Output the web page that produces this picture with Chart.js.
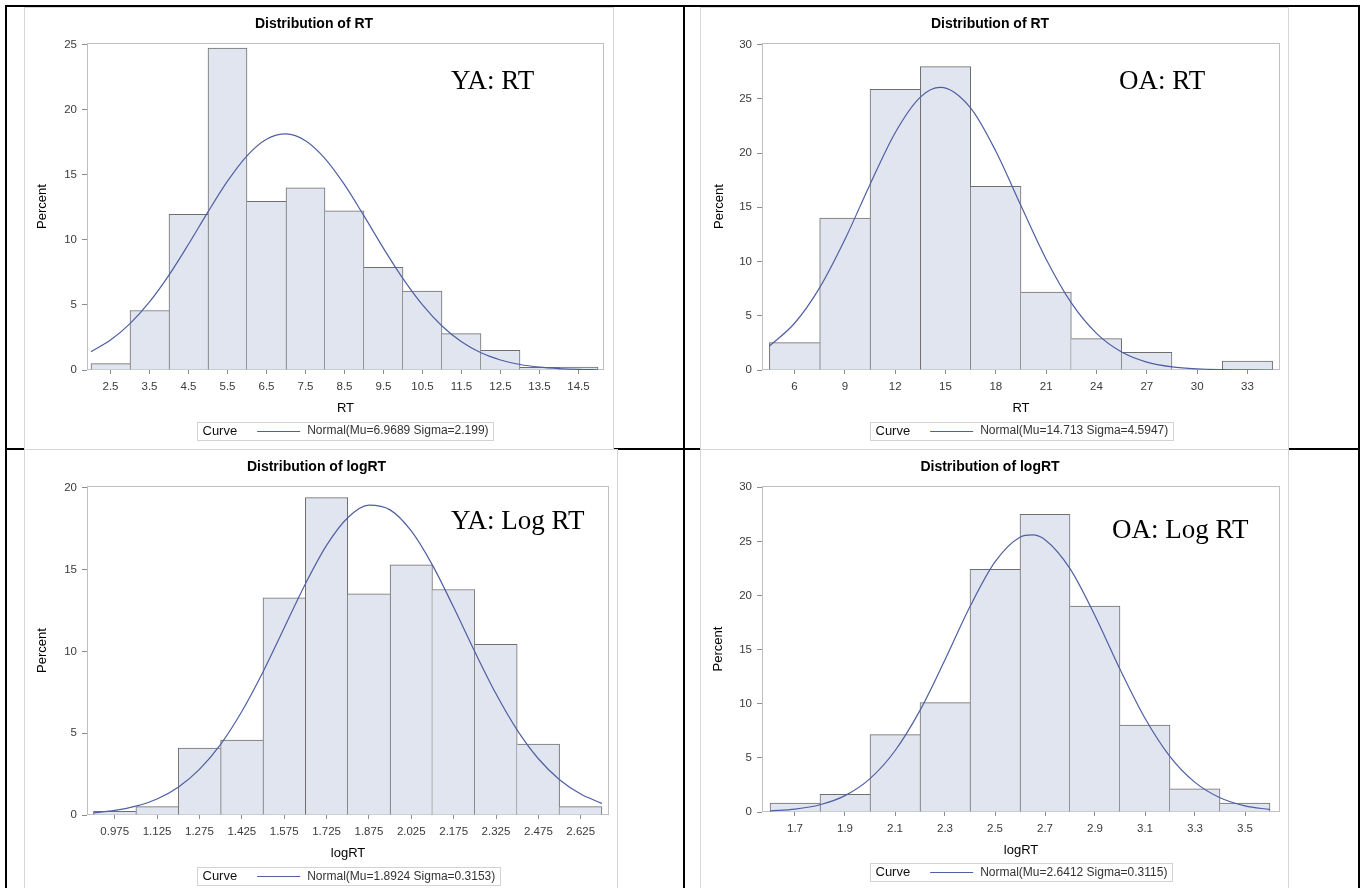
<!DOCTYPE html>
<html>
<head>
<meta charset="utf-8">
<script src="https://cdn.jsdelivr.net/npm/chart.js@4.4.1/dist/chart.umd.min.js"></script>
<style>
html,body{margin:0;padding:0;background:#fff;}
body{width:1360px;height:888px;position:relative;overflow:hidden;}
.bl{position:absolute;background:#000;}
.panel{position:absolute;box-sizing:border-box;border:1px solid #d6d6d6;background:#fff;}
canvas{position:absolute;}
.note{position:absolute;font-family:"Liberation Serif","Times New Roman",serif;font-size:27px;line-height:27px;color:#000;white-space:nowrap;z-index:5;}
</style>
</head>
<body>
<div class="bl" style="left:5px;top:5px;width:1355px;height:2px;"></div>
<div class="bl" style="left:5px;top:5px;width:2px;height:883px;"></div>
<div class="bl" style="left:683px;top:5px;width:2px;height:883px;"></div>
<div class="bl" style="left:1358px;top:5px;width:2px;height:883px;"></div>
<div class="bl" style="left:5px;top:448px;width:1355px;height:2px;"></div>

<div class="panel" style="left:24px;top:7px;width:590px;height:443px;"></div>
<div class="panel" style="left:700px;top:7px;width:589px;height:443px;"></div>
<div class="panel" style="left:24px;top:449px;width:594px;height:445px;"></div>
<div class="panel" style="left:700px;top:449px;width:589px;height:445px;"></div>

<canvas id="cTL" width="590" height="443" style="left:24px;top:7px;"></canvas>
<canvas id="cTR" width="589" height="443" style="left:700px;top:7px;"></canvas>
<canvas id="cBL" width="594" height="445" style="left:24px;top:449px;"></canvas>
<canvas id="cBR" width="589" height="445" style="left:700px;top:449px;"></canvas>

<div class="note" style="left:451px;top:67px;">YA: RT</div>
<div class="note" style="left:1119px;top:67px;">OA: RT</div>
<div class="note" style="left:451px;top:507px;">YA: Log RT</div>
<div class="note" style="left:1112px;top:516px;">OA: Log RT</div>

<script>
// ---------- DATA ----------
// Young adults, RT
const yaRtBinCenters = [2.5,3.5,4.5,5.5,6.5,7.5,8.5,9.5,10.5,11.5,12.5,13.5,14.5];
const yaRtPercent    = [0.49,4.57,11.97,24.74,12.97,14.0,12.23,7.89,6.06,2.8,1.52,0.2,0.23];
const yaRtCurveX     = [2,2.5,3,3.5,4,4.5,5,5.5,6,6.5,7,7.5,8,8.5,9,9.5,10,10.5,11,11.5,12,12.5,13,13.5,14,14.5,15];
const yaRtCurveY     = [1.41,2.30,3.56,5.23,7.29,9.66,12.15,14.51,16.46,17.73,18.14,17.62,16.25,14.24,11.84,9.35,7.02,5.00,3.38,2.17,1.32,0.77,0.42,0.22,0.11,0.05,0.02];
const yaRtXTicks     = ['2.5','3.5','4.5','5.5','6.5','7.5','8.5','9.5','10.5','11.5','12.5','13.5','14.5'];
const yaRtYTicks     = ['0','5','10','15','20','25'];

// Older adults, RT
const oaRtBinCenters = [6,9,12,15,18,21,24,27,30,33];
const oaRtPercent    = [2.53,14.0,25.87,27.97,16.93,7.18,2.9,1.63,0,0.83];
const oaRtCurveX     = [4.5,6,7.5,9,10.5,12,13.5,14.7,16.5,18,19.5,21,22.5,24,25.5,27,28.5,30,31.5,33,34.5];
const oaRtCurveY     = [2.20,4.31,7.60,12.03,17.11,21.88,25.16,26.05,24.15,20.17,15.14,10.22,6.19,3.38,1.66,0.73,0.29,0.10,0.03,0.01,0.00];
const oaRtXTicks     = ['6','9','12','15','18','21','24','27','30','33'];
const oaRtYTicks     = ['0','5','10','15','20','25','30'];

// Young adults, logRT
const yaLogBinCenters = [0.975,1.125,1.275,1.425,1.575,1.725,1.875,2.025,2.175,2.325,2.475,2.625];
const yaLogPercent    = [0.22,0.51,4.09,4.58,13.28,19.41,13.52,15.3,13.79,10.44,4.33,0.51];
const yaLogCurveX     = [0.9,0.975,1.05,1.125,1.2,1.275,1.35,1.425,1.5,1.575,1.65,1.725,1.8,1.875,1.95,2.025,2.1,2.175,2.25,2.325,2.4,2.475,2.55,2.625,2.7];
const yaLogCurveY     = [0.13,0.28,0.54,0.98,1.70,2.79,4.32,6.33,8.75,11.44,14.13,16.49,18.18,18.95,18.66,17.37,15.28,12.70,9.98,7.41,5.19,3.44,2.16,1.28,0.71];
const yaLogXTicks     = ['0.975','1.125','1.275','1.425','1.575','1.725','1.875','2.025','2.175','2.325','2.475','2.625'];
const yaLogYTicks     = ['0','5','10','15','20'];

// Older adults, logRT
const oaLogBinCenters = [1.7,1.9,2.1,2.3,2.5,2.7,2.9,3.1,3.3,3.5];
const oaLogPercent    = [0.83,1.63,7.15,10.11,22.42,27.5,19.02,8.02,2.13,0.83];
const oaLogCurveX     = [1.6,1.7,1.8,1.9,2.0,2.1,2.2,2.3,2.4,2.5,2.6,2.65,2.7,2.8,2.9,3.0,3.1,3.2,3.3,3.4,3.5,3.6];
const oaLogCurveY     = [0.10,0.27,0.67,1.51,3.08,5.66,9.39,14.06,18.98,23.11,25.39,25.60,25.16,22.49,18.14,13.19,8.66,5.12,2.74,1.32,0.57,0.22];
const oaLogXTicks     = ['1.7','1.9','2.1','2.3','2.5','2.7','2.9','3.1','3.3','3.5'];
const oaLogYTicks     = ['0','5','10','15','20','25','30'];

// ---------- STYLE ----------
const FONT = '"Liberation Sans", Arial, sans-serif';
const FILL = '#e1e5ef';
const EDGE = '#6e6e6e';
const CURVE = '#4f5fa3';
const FRAME = '#bcc0c2';
const TICKMARK = '#8c8c8c';
const TICKTXT = '#3a3a3a';

const decor = {
  id: 'sasDecor',
  beforeDatasetsDraw(chart) {
    const {ctx, chartArea: a} = chart;
    ctx.save();
    ctx.strokeStyle = FRAME;
    ctx.lineWidth = 1;
    const l = Math.round(a.left), t = Math.round(a.top), r = Math.round(a.right), b = Math.round(a.bottom);
    ctx.strokeRect(l + 0.5, t + 0.5, r - l - 1, b - t - 1);
    ctx.restore();
  },
  afterDraw(chart, args, opts) {
    const {ctx, chartArea: a} = chart;
    const ds = chart.data.datasets[0];
    ctx.save();
    ctx.font = '13px ' + FONT;
    const wT = ctx.measureText(opts.title).width;
    ctx.font = '12px ' + FONT;
    const wL = ctx.measureText(ds.label).width;
    const boxW = 5 + wT + 20 + 43 + 7 + wL + 5;
    const cx = (a.left + a.right) / 2;
    const cy = opts.y;
    const x0 = Math.round(cx - boxW / 2) + 0.5;
    const y0 = Math.round(cy - 9) + 0.5;
    ctx.strokeStyle = '#d2d2d2';
    ctx.lineWidth = 1;
    ctx.strokeRect(x0, y0, Math.round(boxW), 18);
    ctx.textBaseline = 'middle';
    ctx.textAlign = 'left';
    ctx.fillStyle = '#111';
    ctx.font = '13px ' + FONT;
    ctx.fillText(opts.title, x0 + 5, cy + 0.5);
    const lx = x0 + 5 + wT + 20;
    ctx.strokeStyle = ds.borderColor;
    ctx.lineWidth = 1.2;
    ctx.beginPath();
    ctx.moveTo(lx, Math.round(cy) + 0.5);
    ctx.lineTo(lx + 43, Math.round(cy) + 0.5);
    ctx.stroke();
    ctx.fillStyle = '#333';
    ctx.font = '12px ' + FONT;
    ctx.fillText(ds.label, lx + 43 + 7, cy + 0.5);
    ctx.restore();
  }
};

function barBorder(c) {
  if (c.type !== 'data') return 1;
  const v = c.dataset.data.map(d => d.y);
  const i = c.dataIndex;
  const cur = v[i];
  return {
    top: 1,
    bottom: 0,
    left: (i === 0 || v[i - 1] < cur) ? 1 : 0,
    right: (i === v.length - 1 || v[i + 1] <= cur) ? 1 : 0
  };
}

function build(id, p) {
  const xVals = p.xTicks.map(Number);
  const yVals = p.yTicks.map(Number);
  return new Chart(document.getElementById(id), {
    type: 'bar',
    data: {
      datasets: [
        {
          type: 'line',
          label: p.curveLabel,
          data: p.curveX.map((x, i) => ({x: x, y: p.curveY[i]})),
          borderColor: CURVE,
          borderWidth: 1.2,
          pointRadius: 0,
          cubicInterpolationMode: 'monotone',
          fill: false,
          order: 0
        },
        {
          type: 'bar',
          label: 'Percent',
          data: p.binX.map((x, i) => ({x: x, y: p.pct[i]})),
          backgroundColor: FILL,
          borderColor: EDGE,
          borderWidth: barBorder,
          borderSkipped: false,
          barPercentage: 1,
          categoryPercentage: 1,
          order: 1
        }
      ]
    },
    options: {
      responsive: false,
      animation: false,
      events: [],
      layout: {padding: {left: 0, right: p.padRight, top: 0, bottom: 0}},
      plugins: {
        legend: {display: false},
        tooltip: {enabled: false},
        title: {
          display: true, text: p.title, color: '#000',
          font: {family: FONT, size: 14, weight: 'bold'},
          padding: {top: p.tTop, bottom: p.tBottom}
        },
        sasDecor: {title: 'Curve', y: p.legendY}
      },
      scales: {
        x: {
          type: 'linear', min: p.xMin, max: p.xMax, offset: false,
          afterBuildTicks: s => { s.ticks = xVals.map(v => ({value: v})); },
          afterFit: s => { s.height = p.xH; },
          ticks: {
            autoSkip: false, maxRotation: 0, minRotation: 0, padding: 5.5,
            color: TICKTXT, font: {family: FONT, size: 11.5},
            callback: (v, i) => p.xTicks[i]
          },
          grid: {display: true, drawOnChartArea: false, drawTicks: true, tickLength: 4, color: TICKMARK, offset: false},
          border: {display: false},
          title: {display: true, text: p.xTitle, color: '#000', font: {family: FONT, size: 13}, padding: {top: 0, bottom: p.xTitlePad}}
        },
        y: {
          type: 'linear', min: 0, max: p.yMax,
          afterBuildTicks: s => { s.ticks = yVals.map(v => ({value: v})); },
          afterFit: s => { s.width = p.yW; },
          ticks: {
            padding: 5, color: TICKTXT, font: {family: FONT, size: 11.5},
            callback: (v, i) => p.yTicks[i]
          },
          grid: {display: true, drawOnChartArea: false, drawTicks: true, tickLength: 5, color: TICKMARK},
          border: {display: false},
          title: {display: true, text: 'Percent', color: '#000', font: {family: FONT, size: 13}, padding: {top: p.yTitlePad, bottom: 0}}
        }
      }
    },
    plugins: [decor]
  });
}

build('cTL', {
  binX: yaRtBinCenters, pct: yaRtPercent, curveX: yaRtCurveX, curveY: yaRtCurveY,
  xTicks: yaRtXTicks, yTicks: yaRtYTicks,
  curveLabel: 'Normal(Mu=6.9689 Sigma=2.199)', title: 'Distribution of RT', xTitle: 'RT',
  xMin: 1.89744, xMax: 15.15385, yMax: 25.13,
  padRight: 10, yW: 63, xH: 80, tTop: 8.6, tBottom: 10.6, yTitlePad: 10.2, xTitlePad: 34.2, legendY: 423.5
});
build('cTR', {
  binX: oaRtBinCenters, pct: oaRtPercent, curveX: oaRtCurveX, curveY: oaRtCurveY,
  xTicks: oaRtXTicks, yTicks: oaRtYTicks,
  curveLabel: 'Normal(Mu=14.713 Sigma=4.5947)', title: 'Distribution of RT', xTitle: 'RT',
  xMin: 4.06, xMax: 34.94, yMax: 30.15,
  padRight: 9, yW: 62, xH: 80, tTop: 8.6, tBottom: 10.6, yTitlePad: 11.2, xTitlePad: 34.2, legendY: 423.5
});
build('cBL', {
  binX: yaLogBinCenters, pct: yaLogPercent, curveX: yaLogCurveX, curveY: yaLogCurveY,
  xTicks: yaLogXTicks, yTicks: yaLogYTicks,
  curveLabel: 'Normal(Mu=1.8924 Sigma=0.3153)', title: 'Distribution of logRT', xTitle: 'logRT',
  xMin: 0.877, xMax: 2.725, yMax: 20.12,
  padRight: 9, yW: 63, xH: 79, tTop: 9.9, tBottom: 10.3, yTitlePad: 10.2, xTitlePad: 33.2, legendY: 427
});
build('cBR', {
  binX: oaLogBinCenters, pct: oaLogPercent, curveX: oaLogCurveX, curveY: oaLogCurveY,
  xTicks: oaLogXTicks, yTicks: oaLogYTicks,
  curveLabel: 'Normal(Mu=2.6412 Sigma=0.3115)', title: 'Distribution of logRT', xTitle: 'logRT',
  xMin: 1.568, xMax: 3.64, yMax: 30.12,
  padRight: 9, yW: 62, xH: 82, tTop: 9.9, tBottom: 10.3, yTitlePad: 10.2, xTitlePad: 35.7, legendY: 423.4
});
</script>
</body>
</html>
